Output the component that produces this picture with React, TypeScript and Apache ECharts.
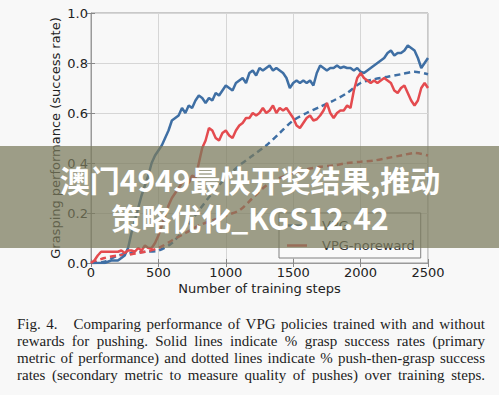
import React, { useEffect, useRef } from 'react';
import * as echarts from 'echarts';

const stepsFine = [
  0, 25, 50, 75, 100, 125, 150, 175, 200, 225, 250, 275, 300, 325, 350, 375, 400, 425, 450, 475,
  500, 525, 550, 575, 600, 625, 650, 675, 700, 725, 750, 775, 800, 825, 850, 875, 900, 925, 950, 975,
  1000, 1025, 1050, 1075, 1100, 1125, 1150, 1175, 1200, 1225, 1250, 1275, 1300, 1325, 1350, 1375,
  1400, 1425, 1450, 1475, 1500, 1525, 1550, 1575, 1600, 1625, 1650, 1675, 1700, 1725, 1750, 1775,
  1800, 1825, 1850, 1875, 1900, 1925, 1950, 1975, 2000, 2025, 2050, 2075, 2100, 2125, 2150, 2175,
  2200, 2225, 2250, 2275, 2300, 2325, 2350, 2375, 2400, 2425, 2450, 2475, 2500,
];

const vpgGrasp = [
  0, 0, 0, 0, 0, 0.005, 0.01, 0.01, 0.01, 0.02, 0.03, 0.06, 0.12, 0.17, 0.22, 0.27, 0.31, 0.35, 0.4, 0.43,
  0.45, 0.47, 0.5, 0.53, 0.57, 0.58, 0.59, 0.62, 0.6, 0.63, 0.62, 0.65, 0.67, 0.66, 0.64, 0.66, 0.65, 0.68, 0.67, 0.69,
  0.71, 0.7, 0.69, 0.72, 0.73, 0.74, 0.72, 0.76, 0.77, 0.75, 0.78, 0.77, 0.78, 0.79, 0.77, 0.78,
  0.77, 0.76, 0.74, 0.7, 0.72, 0.73, 0.72, 0.73, 0.72, 0.73, 0.71, 0.76, 0.79, 0.78, 0.77, 0.78,
  0.78, 0.79, 0.78, 0.785, 0.78, 0.78, 0.77, 0.78, 0.765, 0.76, 0.77, 0.78, 0.79, 0.8, 0.81, 0.82,
  0.84, 0.85, 0.83, 0.84, 0.84, 0.85, 0.87, 0.86, 0.85, 0.82, 0.78, 0.8, 0.82,
];

const norewardGrasp = [
  0, 0.01, 0.03, 0.045, 0.045, 0.045, 0.045, 0.045, 0.045, 0.05, 0.04, 0.05, 0.05, 0.045, 0.06, 0.05, 0.07, 0.06, 0.06, 0.08,
  0.11, 0.15, 0.19, 0.23, 0.26, 0.28, 0.3, 0.32, 0.33, 0.32, 0.35, 0.34, 0.4, 0.46, 0.49, 0.54, 0.53, 0.5, 0.49, 0.52,
  0.53, 0.51, 0.5, 0.53, 0.55, 0.56, 0.58, 0.58, 0.6, 0.59, 0.6, 0.62, 0.6, 0.61, 0.63, 0.6,
  0.62, 0.61, 0.62, 0.6, 0.58, 0.55, 0.54, 0.56, 0.58, 0.59, 0.57, 0.575, 0.59, 0.61, 0.64, 0.6,
  0.58, 0.6, 0.61, 0.61, 0.63, 0.62, 0.69, 0.74, 0.76, 0.74, 0.73, 0.72, 0.73, 0.72, 0.73, 0.74,
  0.73, 0.72, 0.69, 0.68, 0.7, 0.71, 0.68, 0.65, 0.63, 0.65, 0.7, 0.72, 0.7,
];

const stepsCoarse = [
  0, 100, 200, 300, 400, 500, 600, 700, 800, 900, 1000, 1100, 1200, 1300, 1400, 1500, 1600, 1700,
  1800, 1900, 2000, 2100, 2200, 2300, 2400, 2500,
];

const vpgPushGrasp = [
  0, 0.005, 0.03, 0.04, 0.045, 0.05, 0.08, 0.14, 0.21, 0.28, 0.34, 0.39, 0.43, 0.47, 0.52, 0.57, 0.6, 0.625,
  0.65, 0.68, 0.72, 0.735, 0.745, 0.755, 0.765, 0.755,
];

const norewardPushGrasp = [
  0, 0.02, 0.03, 0.035, 0.045, 0.06, 0.09, 0.12, 0.15, 0.17, 0.19, 0.21, 0.26, 0.31, 0.34, 0.36, 0.375, 0.385,
  0.39, 0.4, 0.405, 0.41, 0.42, 0.43, 0.44, 0.43,
];

const legendNames = ['VPG', 'VPG-noreward'];
const bannerLines = ['澳门4949最快开奖结果,推动', '策略优化_KGS12.42'];
const captionLines = [
  'Fig. 4.   Comparing performance of VPG policies trained with and without',
  'rewards for pushing. Solid lines indicate % grasp success rates (primary',
  'metric of performance) and dotted lines indicate % push-then-grasp success',
  'rates (secondary metric to measure quality of pushes) over training steps.',
];

const BLUE = '#3f6fa4';
const RED = '#e44b4f';
const FONT = "'DejaVu Sans', sans-serif";

const pairs = (xs: number[], ys: number[]) => xs.map((x, i) => [x, ys[i]]);

export default function App() {
  const ref = useRef<HTMLDivElement>(null);
  useEffect(() => {
    document.body.style.margin = '0';
    document.body.style.background = '#f8f8f8';
    const chart = echarts.init(ref.current!, null, { renderer: 'svg' });

    // caption, justified between left/right edges
    const canvas = document.createElement('canvas');
    const ctx = canvas.getContext('2d')!;
    ctx.font = "15px 'Liberation Serif'";
    const capLeft = 17;
    const capRight = 485;
    const captionEls: any[] = [];
    captionLines.forEach((line, li) => {
      const parts = line.split(' ');
      const words: string[] = [];
      const gaps: number[] = [];
      let pending = 0;
      parts.forEach((p) => {
        if (p === '') {
          pending++;
        } else {
          if (words.length) gaps.push(pending + 1);
          words.push(p);
          pending = 0;
        }
      });
      const widths = words.map((w) => ctx.measureText(w).width);
      const total = widths.reduce((a, b) => a + b, 0);
      const gw = gaps.reduce((a, b) => a + b, 0);
      const g = (capRight - capLeft - total) / gw;
      let x = capLeft;
      words.forEach((w, i) => {
        captionEls.push({
          type: 'text',
          x,
          y: 324 + li * 17,
          z: 50,
          style: {
            text: w,
            fill: '#1c1c1c',
            fontFamily: "'Liberation Serif', serif",
            fontSize: 15,
            textVerticalAlign: 'middle',
            textAlign: 'left',
          },
        });
        x += widths[i] + (i < gaps.length ? gaps[i] * g : 0);
      });
    });

    const axisLabel = { color: '#222', fontFamily: FONT, fontSize: 13 };

    chart.setOption({
      animation: false,
      backgroundColor: '#f8f8f8',
      grid: {
        left: 91,
        right: 71,
        top: 13,
        bottom: 132,
        show: true,
        borderColor: '#9a9a9a',
        borderWidth: 1,
        backgroundColor: '#f8f8f8',
      },
      legend: {
        data: legendNames,
        orient: 'vertical',
        left: 279,
        top: 213,
        width: 144,
        padding: [5, 6, 5, 8],
        icon: 'rect',
        itemWidth: 20,
        itemHeight: 2.5,
        itemGap: 5,
        backgroundColor: '#fafafa',
        borderColor: '#808080',
        borderWidth: 1,
        borderRadius: 0,
        textStyle: { color: '#333', fontFamily: FONT, fontSize: 13, padding: [0, 0, 0, 10], lineHeight: 15 },
      },
      xAxis: [
        {
          type: 'value',
          min: 0,
          max: 2500,
          interval: 500,
          name: 'Number of training steps',
          nameLocation: 'middle',
          nameGap: 19,
          nameMoveOverlap: false,
          nameTextStyle: { color: '#222', fontFamily: FONT, fontSize: 13 },
          axisLine: { show: true, lineStyle: { color: '#9a9a9a' } },
          axisTick: { show: true, inside: true, length: 4, lineStyle: { color: '#888' } },
          axisLabel: { ...axisLabel, margin: 3, formatter: (v: number) => String(v) },
          splitLine: { show: true, lineStyle: { color: '#d6d6d6', width: 1 } },
        },
        {
          type: 'value',
          position: 'top',
          min: 0,
          max: 2500,
          interval: 500,
          axisLine: { show: false },
          axisTick: { show: true, inside: true, length: 4, lineStyle: { color: '#888' } },
          axisLabel: { show: false },
          splitLine: { show: false },
        },
      ],
      yAxis: [
        {
          type: 'value',
          min: 0,
          max: 1,
          interval: 0.2,
          name: 'Grasping performance (success rate)',
          nameLocation: 'middle',
          nameGap: 29,
          nameMoveOverlap: false,
          nameTextStyle: { color: '#222', fontFamily: FONT, fontSize: 13 },
          axisLine: { show: true, lineStyle: { color: '#9a9a9a' } },
          axisTick: { show: true, inside: true, length: 4, lineStyle: { color: '#888' } },
          axisLabel: { ...axisLabel, margin: 3, formatter: (v: number) => v.toFixed(1) },
          splitLine: { show: true, lineStyle: { color: '#d6d6d6', width: 1 } },
        },
        {
          type: 'value',
          position: 'right',
          min: 0,
          max: 1,
          interval: 0.2,
          axisLine: { show: false },
          axisTick: { show: true, inside: true, length: 4, lineStyle: { color: '#888' } },
          axisLabel: { show: false },
          splitLine: { show: false },
        },
      ],
      series: [
        {
          name: 'VPG',
          type: 'line',
          data: pairs(stepsFine, vpgGrasp),
          symbol: 'none',
          lineStyle: { color: BLUE, width: 2.5 },
          itemStyle: { color: BLUE },
          z: 3,
        },
        {
          name: 'VPG-noreward',
          type: 'line',
          data: pairs(stepsFine, norewardGrasp),
          symbol: 'none',
          lineStyle: { color: RED, width: 2.5 },
          itemStyle: { color: RED },
          z: 3,
        },
        {
          name: 'VPG push-then-grasp',
          type: 'line',
          data: pairs(stepsCoarse, vpgPushGrasp),
          symbol: 'none',
          smooth: 0.3,
          lineStyle: { color: BLUE, width: 2.5, type: [6, 4] },
          itemStyle: { color: BLUE },
          z: 2,
        },
        {
          name: 'VPG-noreward push-then-grasp',
          type: 'line',
          data: pairs(stepsCoarse, norewardPushGrasp),
          symbol: 'none',
          smooth: 0.3,
          lineStyle: { color: RED, width: 2.5, type: [6, 4] },
          itemStyle: { color: RED },
          z: 2,
        },
      ],
      graphic: [
        {
          type: 'rect',
          shape: { x: 0, y: 146, width: 499, height: 102 },
          style: { fill: 'rgba(122,122,92,0.72)' },
          z: 100,
        },
        ...bannerLines.map((t, i) => ({
          type: 'text',
          x: 250,
          y: 179 + i * 38,
          z: 101,
          style: {
            text: t,
            fill: '#ffffff',
            fontFamily: "'Noto Sans CJK SC', sans-serif",
            fontWeight: 'bold',
            fontSize: 30,
            textAlign: 'center',
            textVerticalAlign: 'middle',
          },
        })),
        ...captionEls,
      ],
    });
    return () => chart.dispose();
  }, []);
  return <div ref={ref} style={{ width: 499, height: 395 }} />;
}
